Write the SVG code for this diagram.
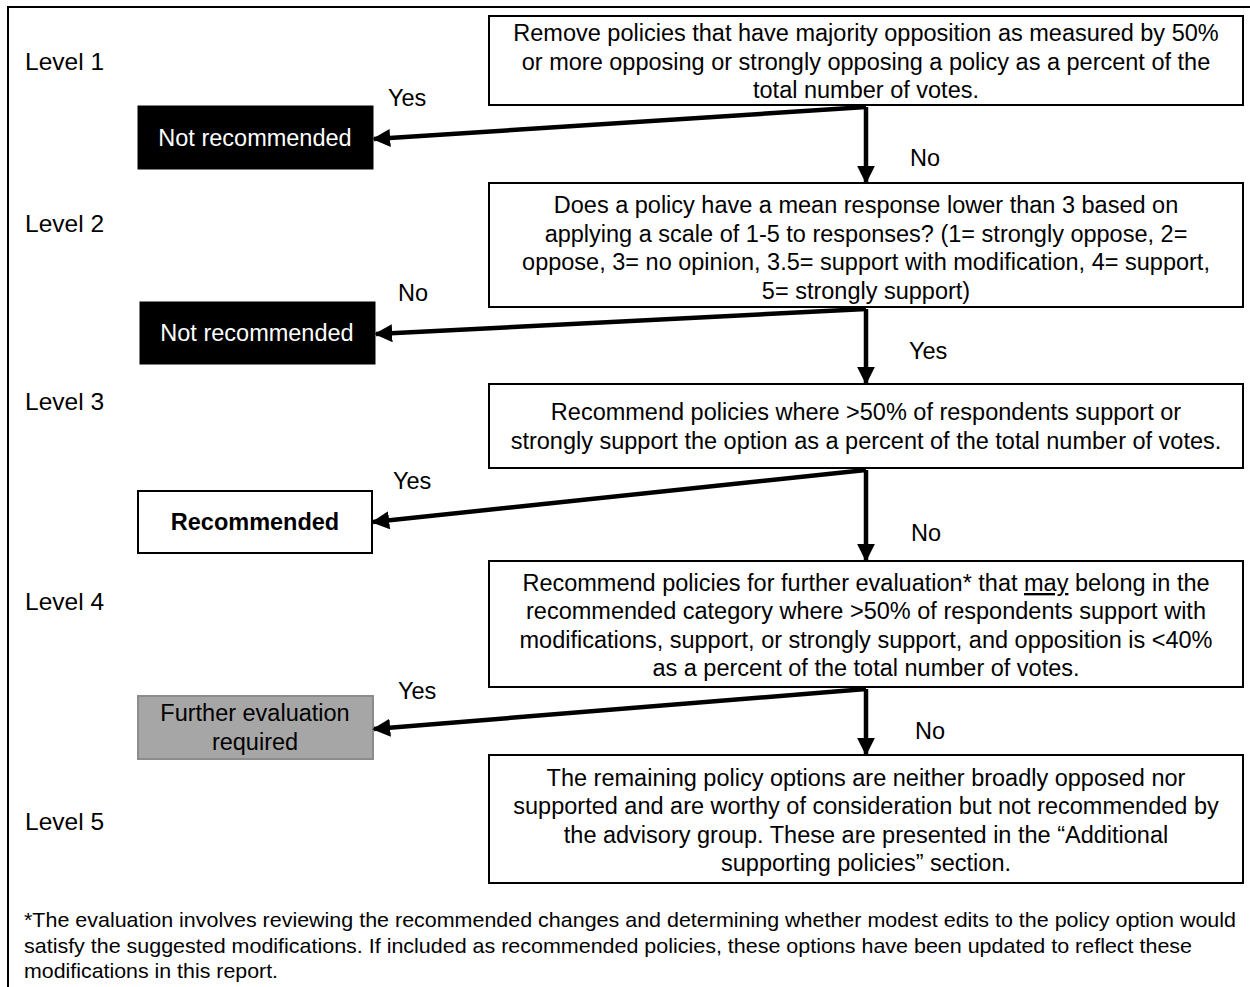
<svg xmlns="http://www.w3.org/2000/svg" width="1250" height="987" viewBox="0 0 1250 987">
<defs>
<marker id="ah" viewBox="0 0 10 10" refX="9" refY="5" markerWidth="4" markerHeight="4" orient="auto" markerUnits="strokeWidth">
<path d="M0,0 L10,5 L0,10 z" fill="#000"/>
</marker>
<style>
text{font-family:"Liberation Sans",Arial,sans-serif;font-size:23.5px;fill:#000}
.c{text-anchor:middle}
.lv{font-size:24.5px}
.box{fill:#fff;stroke:#000;stroke-width:2}
.blk{fill:#000;stroke:#000;stroke-width:1}
.w{fill:#fff}
.conn{stroke:#000;stroke-width:4.5;fill:none;marker-end:url(#ah)}
.ft{font-size:21px}
</style>
</defs>
<rect x="0" y="0" width="1250" height="987" fill="#fff"/>
<rect x="8" y="7" width="1250" height="1000" fill="none" stroke="#000" stroke-width="2"/>

<g id="levels">
<text class="lv" x="25" y="70">Level 1</text>
<text class="lv" x="25" y="232">Level 2</text>
<text class="lv" x="25" y="410">Level 3</text>
<text class="lv" x="25" y="610">Level 4</text>
<text class="lv" x="25" y="830">Level 5</text>
</g>

<g id="box1">
<rect class="box" x="489" y="16" width="754" height="89"/>
<text class="c" x="866" y="41">Remove policies that have majority opposition as measured by 50%</text>
<text class="c" x="866" y="70">or more opposing or strongly opposing a policy as a percent of the</text>
<text class="c" x="866" y="98">total number of votes.</text>
</g>

<g id="box2">
<rect class="box" x="489" y="183" width="754" height="124"/>
<text class="c" x="866" y="213">Does a policy have a mean response lower than 3 based on</text>
<text class="c" x="866" y="242">applying  a scale of 1-5 to responses? (1= strongly oppose, 2=</text>
<text class="c" x="866" y="270">oppose, 3= no opinion, 3.5= support with modification, 4= support,</text>
<text class="c" x="866" y="299">5= strongly support)</text>
</g>

<g id="box3">
<rect class="box" x="489" y="384" width="754" height="84"/>
<text class="c" x="866" y="420">Recommend policies where &gt;50% of respondents support or</text>
<text class="c" x="866" y="449">strongly support the option as a percent of the total number of votes.</text>
</g>

<g id="box4">
<rect class="box" x="489" y="561" width="754" height="126"/>
<text class="c" x="866" y="591">Recommend policies for further evaluation* that <tspan text-decoration="underline">may</tspan> belong in the</text>
<text class="c" x="866" y="619">recommended category where  &gt;50% of respondents support with</text>
<text class="c" x="866" y="648">modifications, support, or strongly support, and opposition is &lt;40%</text>
<text class="c" x="866" y="676">as a percent of the total number of votes.</text>
</g>

<g id="box5">
<rect class="box" x="489" y="755" width="754" height="128"/>
<text class="c" x="866" y="786">The remaining policy options are neither broadly opposed nor</text>
<text class="c" x="866" y="814">supported and are worthy of consideration but not recommended by</text>
<text class="c" x="866" y="843">the advisory group. These are presented in the “Additional</text>
<text class="c" x="866" y="871">supporting policies” section.</text>
</g>

<g id="notrec1">
<rect class="blk" x="138" y="106" width="235" height="63"/>
<text class="c w" x="255" y="146">Not recommended</text>
</g>

<g id="notrec2">
<rect class="blk" x="140" y="302" width="235" height="62"/>
<text class="c w" x="257" y="341">Not recommended</text>
</g>

<g id="recommended">
<rect class="box" x="138" y="491" width="234" height="62"/>
<text class="c" x="255" y="530" font-weight="bold">Recommended</text>
</g>

<g id="further">
<rect x="138" y="696" width="235" height="63" fill="#a6a6a6" stroke="#8c8c8c" stroke-width="2"/>
<text class="c" x="255" y="721" fill="#1a1a1a">Further evaluation</text>
<text class="c" x="255" y="750" fill="#1a1a1a">required</text>
</g>

<g id="connectors">
<path class="conn" d="M866,107 L374,139"/>
<path class="conn" d="M866,107 L866,182"/>
<path class="conn" d="M866,309 L376,334"/>
<path class="conn" d="M866,309 L866,383"/>
<path class="conn" d="M866,470 L373,522"/>
<path class="conn" d="M866,470 L866,560"/>
<path class="conn" d="M866,689 L374,729"/>
<path class="conn" d="M866,689 L866,754"/>
</g>

<g id="labels">
<text x="388" y="106">Yes</text>
<text x="910" y="166">No</text>
<text x="398" y="301">No</text>
<text x="909" y="359">Yes</text>
<text x="393" y="489">Yes</text>
<text x="911" y="541">No</text>
<text x="398" y="699">Yes</text>
<text x="915" y="739">No</text>
</g>

<g id="footnote">
<text class="ft" x="24" y="927" textLength="1212" lengthAdjust="spacingAndGlyphs">*The evaluation involves reviewing the recommended changes and determining whether modest edits to the policy option would</text>
<text class="ft" x="24" y="953" textLength="1168" lengthAdjust="spacingAndGlyphs">satisfy the suggested modifications. If included as recommended policies, these options have been updated to reflect these</text>
<text class="ft" x="24" y="978" textLength="254" lengthAdjust="spacingAndGlyphs">modifications in this report.</text>
</g>
</svg>
